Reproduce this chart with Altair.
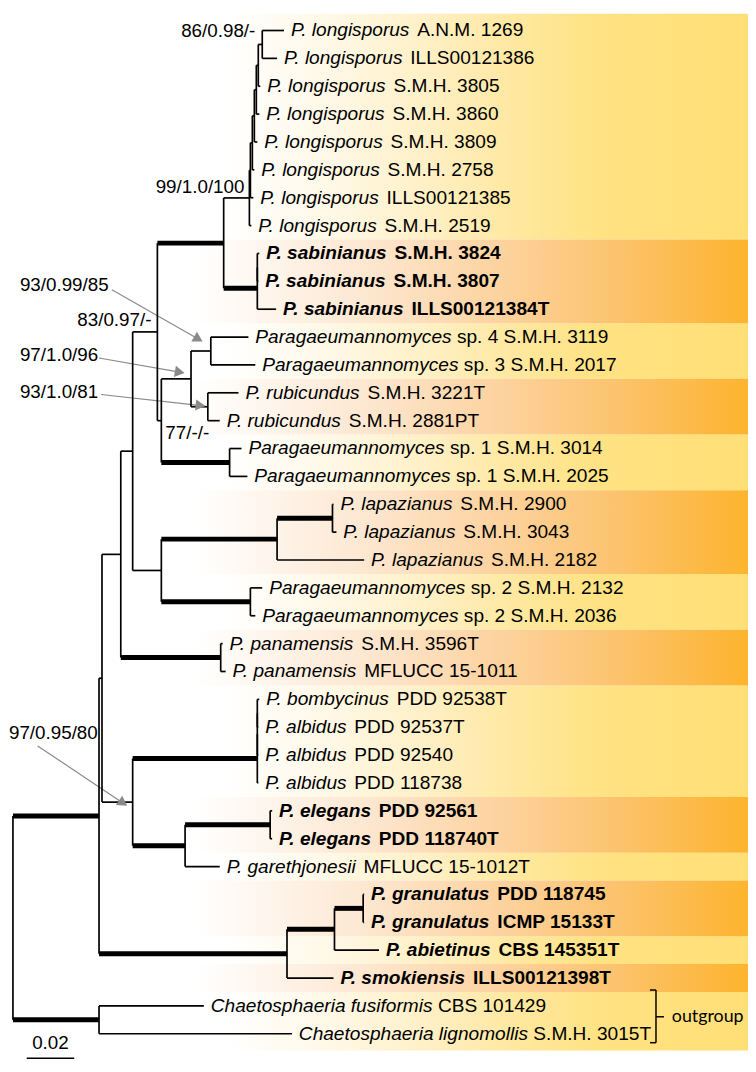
import math
import altair as alt
import pandas as pd

# ---------------- tips (top to bottom) ----------------
tip_species = [
    "P. longisporus", "P. longisporus", "P. longisporus", "P. longisporus",
    "P. longisporus", "P. longisporus", "P. longisporus", "P. longisporus",
    "P. sabinianus", "P. sabinianus", "P. sabinianus",
    "Paragaeumannomyces", "Paragaeumannomyces",
    "P. rubicundus", "P. rubicundus",
    "Paragaeumannomyces", "Paragaeumannomyces",
    "P. lapazianus", "P. lapazianus", "P. lapazianus",
    "Paragaeumannomyces", "Paragaeumannomyces",
    "P. panamensis", "P. panamensis",
    "P. bombycinus", "P. albidus", "P. albidus", "P. albidus",
    "P. elegans", "P. elegans", "P. garethjonesii",
    "P. granulatus", "P. granulatus", "P. abietinus", "P. smokiensis",
    "Chaetosphaeria fusiformis", "Chaetosphaeria lignomollis",
]
tip_strain = [
    "A.N.M. 1269", "ILLS00121386", "S.M.H. 3805", "S.M.H. 3860",
    "S.M.H. 3809", "S.M.H. 2758", "ILLS00121385", "S.M.H. 2519",
    "S.M.H. 3824", "S.M.H. 3807", "ILLS00121384T",
    "sp. 4 S.M.H. 3119", "sp. 3 S.M.H. 2017",
    "S.M.H. 3221T", "S.M.H. 2881PT",
    "sp. 1 S.M.H. 3014", "sp. 1 S.M.H. 2025",
    "S.M.H. 2900", "S.M.H. 3043", "S.M.H. 2182",
    "sp. 2 S.M.H. 2132", "sp. 2 S.M.H. 2036",
    "S.M.H. 3596T", "MFLUCC 15-1011",
    "PDD 92538T", "PDD 92537T", "PDD 92540", "PDD 118738",
    "PDD 92561", "PDD 118740T", "MFLUCC 15-1012T",
    "PDD 118745", "ICMP 15133T", "CBS 145351T", "ILLS00121398T",
    "CBS 101429", "S.M.H. 3015T",
]
tip_bold = [
    False, False, False, False, False, False, False, False,
    True, True, True,
    False, False, False, False, False, False,
    False, False, False, False, False, False, False,
    False, False, False, False,
    True, True, False,
    True, True, True, True,
    False, False,
]
tip_depth = [
    0.11417, 0.11125, 0.10417, 0.10375, 0.10292, 0.10167, 0.10125, 0.10042,
    0.10375, 0.10333, 0.11083,
    0.09917, 0.10208, 0.09500, 0.08708, 0.09625, 0.09875,
    0.13500, 0.13625, 0.14792, 0.10500, 0.10208, 0.08833, 0.08958,
    0.10375, 0.10333, 0.10333, 0.10333,
    0.10917, 0.10917, 0.08708,
    0.14792, 0.14792, 0.15417, 0.13500,
    0.08042, 0.11750,
]
tip_parent = [
    "L6", "L6", "L5", "L4", "L3", "L2", "L1", "L0",
    "S1", "S1", "S",
    "N213", "N213", "N210", "N210", "SP1", "SP1",
    "LAP2", "LAP2", "LAP", "SP2", "SP2", "PAN", "PAN",
    "BA3", "BA3", "BA2", "BA",
    "EL", "EL", "EG",
    "GR", "GR", "C1", "C",
    "OUT", "OUT",
]

# ---------------- internal nodes ----------------
node_name = ["R", "ING", "OUT", "X", "A", "A1", "N158", "LS", "L0", "L1", "L2", "L3",
             "L4", "L5", "L6", "S", "S1", "N163", "N193", "N213", "N210", "SP1",
             "LAPSP2", "LAP", "LAP2", "SP2", "PAN", "B", "BA", "BA2", "BA3", "EG",
             "EL", "C", "C1", "GR"]
node_parent = [None, "R", "R", "ING", "X", "A", "A1", "N158", "LS", "L0", "L1", "L2",
               "L3", "L4", "L5", "LS", "S", "N158", "N163", "N193", "N193", "N163",
               "A1", "LAPSP2", "LAP", "LAPSP2", "A", "X", "B", "BA", "BA2", "B",
               "EG", "ING", "C", "C1"]
node_depth = [0.0, 0.03625, 0.03625, 0.0375, 0.04542, 0.05042, 0.06083, 0.08875,
              0.09958, 0.1, 0.10083, 0.10167, 0.1025, 0.10333, 0.105, 0.10292,
              0.10292, 0.0625, 0.075, 0.08333, 0.08208, 0.09125, 0.0625, 0.11125,
              0.13458, 0.1, 0.0875, 0.05042, 0.10292, 0.10292, 0.10292, 0.0725,
              0.10833, 0.11542, 0.13542, 0.1475]
thick_nodes = ["ING", "OUT", "LS", "S", "SP1", "LAP", "LAP2", "SP2", "PAN",
               "BA", "EG", "EL", "C", "C1", "GR"]

# ---------------- support values ----------------
support_text = ["86/0.98/-", "99/1.0/100", "93/0.99/85", "83/0.97/-",
                "97/1.0/96", "93/1.0/81", "77/-/-", "97/0.95/80"]
support_depth = [0.10208, 0.0975, 0.00292, 0.05833, 0.00292, 0.00292, 0.06417, -0.00167]
support_row = [0.02, 5.61, 9.12, 10.40, 11.64, 12.99, 14.45, 25.20]
support_align = ["right", "right", "left", "right", "left", "left", "left", "left"]

arrow_x1 = [0.04167, 0.03625, 0.03708, 0.01042]
arrow_r1 = [9.30, 11.75, 13.06, 25.67]
arrow_x2 = [0.0775, 0.06958, 0.07833, 0.04583]
arrow_r2 = [11.04, 12.25, 13.45, 27.69]

# ---------------- background bands ----------------
band_first = [0, 8, 11, 13, 15, 17, 20, 22, 24, 28, 30, 31, 33, 34, 35]
band_last = [7, 10, 12, 14, 16, 19, 21, 23, 27, 29, 30, 32, 33, 34, 36]
band_tone = ["light", "dark", "light", "dark", "light", "dark", "light", "dark",
             "light", "dark", "light", "dark", "light", "dark", "light"]

scale_bar = 0.02

# ---------------- geometry helpers ----------------
W, H = 748, 1064
PX = 2400.0          # pixels per substitution/site
ROW = 28.17          # pixels per tip row
X_DOM = [-5 / PX, (W - 5) / PX]
Y_DOM = [-17 / ROW, (H - 17) / ROW]

REG = {' ': 278, '.': 278, '-': 333, '/': 278, 'A': 667, 'B': 667, 'C': 722, 'D': 722,
       'E': 667, 'F': 611, 'G': 778, 'H': 722, 'I': 278, 'J': 500, 'K': 667, 'L': 556,
       'M': 833, 'N': 722, 'O': 778, 'P': 667, 'Q': 778, 'R': 722, 'S': 667, 'T': 611,
       'U': 722, 'V': 667, 'W': 944, 'X': 667, 'Y': 667, 'Z': 611,
       'a': 556, 'b': 556, 'c': 500, 'd': 556, 'e': 556, 'f': 278, 'g': 556, 'h': 556,
       'i': 222, 'j': 222, 'k': 500, 'l': 222, 'm': 833, 'n': 556, 'o': 556, 'p': 556,
       'q': 556, 'r': 333, 's': 500, 't': 278, 'u': 556, 'v': 500, 'w': 722, 'x': 500,
       'y': 500, 'z': 500}
BOLD = dict(REG)
BOLD.update({'A': 722, 'B': 722, 'J': 556, 'K': 722, 'L': 611,
             'a': 556, 'b': 611, 'c': 556, 'd': 611, 'e': 556, 'f': 333, 'g': 611,
             'h': 611, 'i': 278, 'j': 278, 'k': 556, 'l': 278, 'm': 889, 'n': 611,
             'o': 611, 'p': 611, 'q': 611, 'r': 389, 's': 556, 't': 333, 'u': 611,
             'v': 556, 'w': 778, 'x': 556, 'y': 556, 'z': 500})
FS = 19.3
FS_SUP = 19


def text_w(s, bold):
    tbl = BOLD if bold else REG
    return sum(tbl.get(c, 556) for c in s) * FS / 1000.0


# ---------------- tree layout ----------------
depth = dict(zip(node_name, node_depth))
parent = dict(zip(node_name, node_parent))
children = {n: [] for n in node_name}
for n, p in zip(node_name, node_parent):
    if p is not None:
        children[p].append(n)
ypos = {}
for i, p in enumerate(tip_parent):
    key = "tip%d" % i
    children[p].append(key)
    depth[key] = tip_depth[i]
    parent[key] = p
    ypos[key] = float(i)


def gety(n):
    if n in ypos:
        return ypos[n]
    ys = [gety(c) for c in children[n]]
    ypos[n] = (min(ys) + max(ys)) / 2.0
    return ypos[n]


gety("R")
segs = []
for n in list(depth.keys()):
    p = parent.get(n)
    if p is not None:
        segs.append(dict(x=depth[p], x2=depth[n], y=ypos[n], y2=ypos[n],
                         w=5.0 if n in thick_nodes else 1.7))
for n in node_name:
    ys = [ypos[c] for c in children[n]]
    segs.append(dict(x=depth[n], x2=depth[n], y=min(ys), y2=max(ys), w=1.7))
seg_df = pd.DataFrame(segs)

labels = []
for i in range(len(tip_species)):
    b = tip_bold[i]
    lx = tip_depth[i] + 7 / PX
    sx = lx + text_w(tip_species[i] + " ", b) / PX
    labels.append(dict(row=i, sp=tip_species[i], st=tip_strain[i], bold=b, lx=lx, sx=sx))
lab_df = pd.DataFrame(labels)

band_df = pd.DataFrame(dict(
    y=[f - 0.5 if f > 0 else Y_DOM[0] for f in band_first],
    y2=[l + 0.5 if l < 36 else 36.6 for l in band_last],
    tone=band_tone,
))
band_df["x"] = [0.09042 if t == "light" else 0.07792 for t in band_tone]
band_df["x2"] = X_DOM[1]

sup_df = pd.DataFrame(dict(t=support_text, x=support_depth, y=support_row, al=support_align))

arr_df = pd.DataFrame(dict(x=arrow_x1, y=arrow_r1, x2=arrow_x2, y2=arrow_r2))
arr_df["ang"] = [math.degrees(math.atan2((b - a) * PX, -(d - c) * ROW)) % 360
                 for a, b, c, d in zip(arrow_x1, arrow_x2, arrow_r1, arrow_r2)]

xs = alt.Scale(domain=X_DOM, nice=False, zero=False)
ysc = alt.Scale(domain=Y_DOM, nice=False, zero=False, reverse=True)


def X(f):
    return alt.X(f, type="quantitative", scale=xs, axis=None)


def Y(f):
    return alt.Y(f, type="quantitative", scale=ysc, axis=None)


light_grad = alt.Gradient(gradient="linear", x1=0, x2=1, y1=0, y2=0, stops=[
    alt.GradientStop(color="#ffffff", offset=0),
    alt.GradientStop(color="#fff8e6", offset=0.2),
    alt.GradientStop(color="#fff0c6", offset=0.38),
    alt.GradientStop(color="#ffe8a0", offset=0.55),
    alt.GradientStop(color="#ffe282", offset=0.72),
    alt.GradientStop(color="#ffdf76", offset=1),
])
dark_grad = alt.Gradient(gradient="linear", x1=0, x2=1, y1=0, y2=0, stops=[
    alt.GradientStop(color="#ffffff", offset=0),
    alt.GradientStop(color="#fde6ce", offset=0.32),
    alt.GradientStop(color="#fdd3a0", offset=0.54),
    alt.GradientStop(color="#fcc678", offset=0.72),
    alt.GradientStop(color="#fcba48", offset=0.9),
    alt.GradientStop(color="#fdb42e", offset=1),
])

bands_light = alt.Chart(band_df).transform_filter(alt.datum.tone == "light").mark_rect(
    color=light_grad).encode(x=X("x"), x2="x2", y=Y("y"), y2="y2")
bands_dark = alt.Chart(band_df).transform_filter(alt.datum.tone == "dark").mark_rect(
    color=dark_grad).encode(x=X("x"), x2="x2", y=Y("y"), y2="y2")

tree = alt.Chart(seg_df).mark_rule(color="black").encode(
    x=X("x"), x2="x2", y=Y("y"), y2="y2", size=alt.Size("w:Q", scale=None))

FONT = "Liberation Sans"


def tip_layer(field, xf, bold, italic):
    return alt.Chart(lab_df).transform_filter(alt.datum.bold == bold).mark_text(
        align="left", baseline="middle", font=FONT, fontSize=FS,
        fontStyle="italic" if italic else "normal",
        fontWeight="bold" if bold else "normal", color="black",
    ).encode(x=X(xf), y=Y("row"), text=alt.Text(field + ":N"))


sp_reg = tip_layer("sp", "lx", False, True)
sp_bold = tip_layer("sp", "lx", True, True)
st_reg = tip_layer("st", "sx", False, False)
st_bold = tip_layer("st", "sx", True, False)

sup_left = alt.Chart(sup_df).transform_filter(alt.datum.al == "left").mark_text(
    align="left", baseline="middle", font=FONT, fontSize=FS_SUP, color="black"
).encode(x=X("x"), y=Y("y"), text="t:N")
sup_right = alt.Chart(sup_df).transform_filter(alt.datum.al == "right").mark_text(
    align="right", baseline="middle", font=FONT, fontSize=FS_SUP, color="black"
).encode(x=X("x"), y=Y("y"), text="t:N")

arr_lines = alt.Chart(arr_df).mark_rule(color="#8a8a8a", strokeWidth=1.2).encode(
    x=X("x"), x2="x2", y=Y("y"), y2="y2")
arr_heads = alt.Chart(arr_df).mark_point(
    shape="triangle", filled=True, color="#8a8a8a", size=130, opacity=1
).encode(x=X("x2"), y=Y("y2"), angle=alt.Angle("ang:Q", scale=None))

# scale bar
sb_df = pd.DataFrame(dict(x=[0.0058], x2=[0.0058 + scale_bar], y=[36.88], lab=["%g" % scale_bar]))
sb_line = alt.Chart(sb_df).mark_rule(color="black", strokeWidth=1.5).encode(
    x=X("x"), x2="x2", y=Y("y"))
sb_text = alt.Chart(sb_df).transform_calculate(xm="(datum.x + datum.x2) / 2").mark_text(
    align="center", baseline="middle", font=FONT, fontSize=FS_SUP, color="black"
).encode(x=X("xm"), y=Y("y"), text="lab:N", yOffset=alt.value(-15))

# outgroup bracket
br_df = pd.DataFrame(dict(
    x=[0.27083, 0.2683, 0.2683, 0.27083],
    x2=[0.27083, 0.27083, 0.27083, 0.2742],
    y=[34.43, 34.43, 36.32, 35.39],
    y2=[36.32, 34.43, 36.32, 35.39],
))
bracket = alt.Chart(br_df).mark_rule(color="black", strokeWidth=1.5).encode(
    x=X("x"), x2="x2", y=Y("y"), y2="y2")
og_df = pd.DataFrame(dict(x=[0.2775], y=[35.39], t=["outgroup"]))
og_text = alt.Chart(og_df).mark_text(
    align="left", baseline="middle", font="Lato", fontSize=18, color="black"
).encode(x=X("x"), y=Y("y"), text="t:N")

chart = alt.layer(
    bands_light, bands_dark, arr_lines, tree, arr_heads,
    sp_reg, sp_bold, st_reg, st_bold, sup_left, sup_right,
    sb_line, sb_text, bracket, og_text,
).properties(width=W, height=H, autosize="none", padding=0).configure_view(stroke=None)

chart.save("out.html", embed_options={"renderer": "svg", "actions": False})
